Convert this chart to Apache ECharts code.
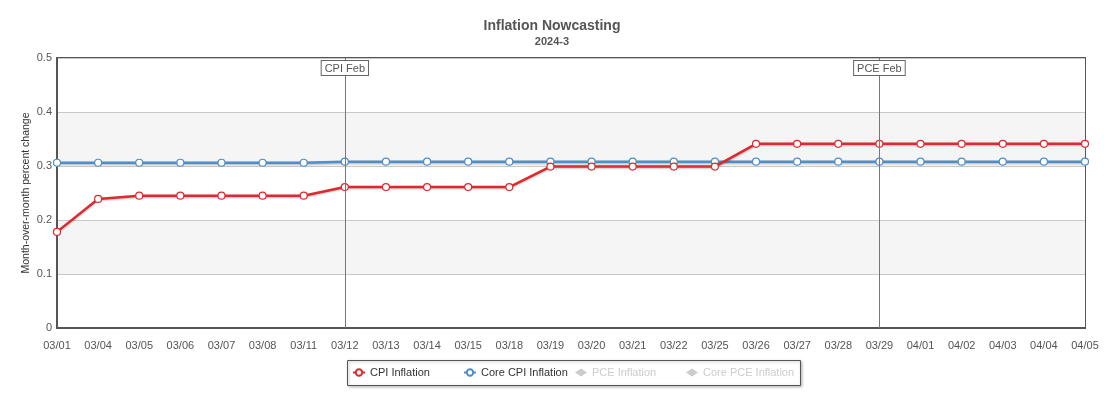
<!DOCTYPE html>
<html><head><meta charset="utf-8">
<script src="https://cdn.jsdelivr.net/npm/echarts@6/dist/echarts.min.js"></script>
<style>html,body{margin:0;padding:0;background:#fff}#c{width:1104px;height:400px}</style>
</head><body><div id="c"></div>
<script>
const categories = ['03/01','03/04','03/05','03/06','03/07','03/08','03/11','03/12','03/13','03/14','03/15','03/18','03/19','03/20','03/21','03/22','03/25','03/26','03/27','03/28','03/29','04/01','04/02','04/03','04/04','04/05'];
const cpi = [0.178,0.239,0.245,0.245,0.245,0.245,0.245,0.261,0.261,0.261,0.261,0.261,0.299,0.299,0.299,0.299,0.299,0.341,0.341,0.341,0.341,0.341,0.341,0.341,0.341,0.341];
const coreCpi = [0.306,0.306,0.306,0.306,0.306,0.306,0.306,0.308,0.308,0.308,0.308,0.308,0.308,0.308,0.308,0.308,0.308,0.308,0.308,0.308,0.308,0.308,0.308,0.308,0.308,0.308];
const events = [{at:'03/12', label:'CPI Feb'},{at:'03/29', label:'PCE Feb'}];
const seriesNames = ['CPI Inflation','Core CPI Inflation','PCE Inflation','Core PCE Inflation'];
const yTicks = {min:0, max:0.5, interval:0.1};

const chart = echarts.init(document.getElementById('c'));
const font = 'Arial, "Liberation Sans", sans-serif';
const lineSeries = (name, data, color, withMarks) => ({
  name, type:'line', data, symbol:'circle', symbolSize:7, showSymbol:true,
  itemStyle:{color:'#fff', borderColor:color, borderWidth:1.2},
  lineStyle:{color, width:2.5, shadowColor:'rgba(0,0,0,0.25)', shadowBlur:2, shadowOffsetY:1},
  emphasis:{disabled:true}, z: withMarks ? 4 : 3,
  markLine: withMarks ? {
    silent:true, symbol:'none', animation:false,
    lineStyle:{color:'#777', width:1, type:'solid'},
    data: events.map(e => ({xAxis:e.at, label:{formatter:e.label}})),
    label:{show:true, position:'end', distance:-17, color:'#555', fontSize:11, fontFamily:font,
      backgroundColor:'#fff', borderColor:'#666', borderWidth:1, padding:[2,3,1,3]}
  } : undefined
});
const legendLefts = [352, 463, 575, 686];
const legends = seriesNames.map((n, i) => ({
  left: legendLefts[i], top: 367, padding: 0, itemWidth: 12, itemHeight: 8, itemGap: 5,
  inactiveColor: '#ccc',
  textStyle: {color:'#333', fontSize:11, fontFamily:font},
  selected: {'PCE Inflation':false, 'Core PCE Inflation':false},
  data: [i < 2 ? n : {name:n, icon:'diamond', lineStyle:{width:0, inactiveWidth:0, opacity:0}}]
}));
chart.setOption({
  animation:false,
  title:{text:'Inflation Nowcasting', subtext:'2024-3', left:'center', top:14, itemGap:3,
    textStyle:{fontSize:14, fontWeight:'bold', color:'#555', fontFamily:font},
    subtextStyle:{fontSize:11, fontWeight:'bold', color:'#555', fontFamily:font}},
  grid:{left:57, right:19, top:58, bottom:72, show:true, borderColor:'#555', borderWidth:2, backgroundColor:'transparent'},
  xAxis:{type:'category', data:categories, boundaryGap:false,
    axisLine:{lineStyle:{color:'#555', width:2}}, axisTick:{show:false},
    axisLabel:{color:'#555', fontSize:11, fontFamily:font, margin:12, interval:0}},
  yAxis:{type:'value', min:yTicks.min, max:yTicks.max, interval:yTicks.interval,
    name:'Month-over-month percent change', nameLocation:'middle', nameGap:25, nameMoveOverlap:false,
    nameTextStyle:{color:'#333', fontSize:10.5, fontFamily:font},
    axisLine:{show:true, lineStyle:{color:'#555', width:2}}, axisTick:{show:false},
    axisLabel:{color:'#555', fontSize:11, fontFamily:font, margin:5},
    splitLine:{lineStyle:{color:'#c8c8c8'}},
    splitArea:{show:true, areaStyle:{color:['#ffffff','#f5f5f5']}}},
  graphic:[{type:'rect', left:347, top:360, z:0, silent:true,
    shape:{width:453, height:25},
    style:{fill:'#fff', stroke:'#555', lineWidth:1, shadowColor:'rgba(0,0,0,0.3)', shadowBlur:3, shadowOffsetX:1, shadowOffsetY:1}}],
  legend: legends,
  series:[
    lineSeries('CPI Inflation', cpi, '#dc2a30', true),
    lineSeries('Core CPI Inflation', coreCpi, '#4f8ec9', false),
    {name:'PCE Inflation', type:'line', data:[], itemStyle:{color:'#aaa'}},
    {name:'Core PCE Inflation', type:'line', data:[], itemStyle:{color:'#aaa'}}
  ]
});
</script></body></html>
